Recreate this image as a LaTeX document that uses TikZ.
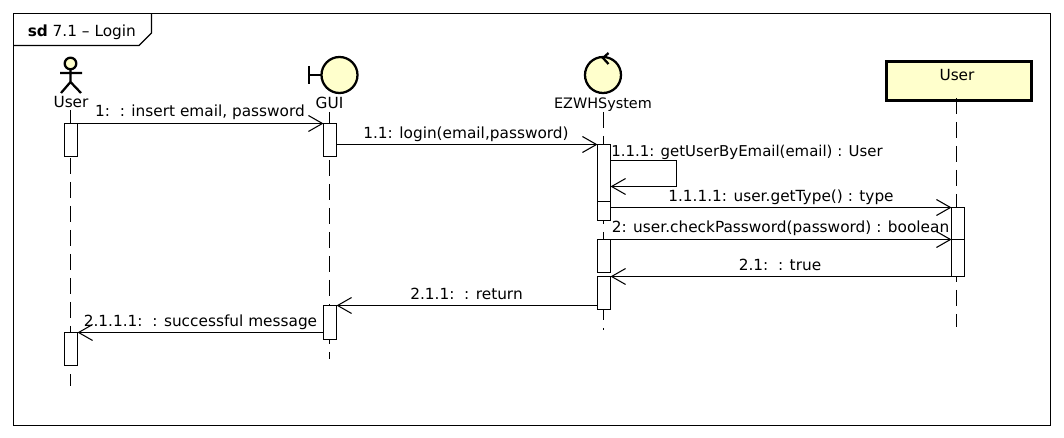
\documentclass[tikz,border=0pt]{standalone}
\usepackage{fontspec}
\setmainfont{DejaVu Sans}
\usetikzlibrary{arrows.meta,calc}
\definecolor{umlfill}{HTML}{FFFFCC}
\tikzset{
  x=0.75pt,y=-0.75pt,
  txt/.style={inner sep=0pt,font=\fontsize{11.5pt}{13pt}\selectfont,text height=8.6pt,text depth=0.1pt},
  msg/.style={draw=black,line width=0.85pt,-{Straight Barb[length=10.5pt,width=12pt,line width=0.8pt]}},
  life/.style={draw=black,line width=0.9pt,dash pattern=on 12pt off 6pt},
  act/.style={draw=black,fill=white,line width=0.8pt,minimum width=9.75pt,inner sep=0pt,outer sep=0pt,anchor=north},
  sym/.style={draw=black,line width=1.7pt},
  symfill/.style={draw=black,fill=umlfill,line width=1.7pt},
}
\begin{document}
\begin{tikzpicture}
\useasboundingbox (0,0) rectangle (1064,438);
\fill[white] (0,0) rectangle (1064,438);
% frame
\draw[line width=0.8pt] (13.5,13.5) rectangle (1050.5,425.5);
\draw[line width=0.8pt] (13.5,45.5) -- (139,45.5) -- (151.5,33) -- (151.5,13.5);
\node[txt,anchor=west] (frametitle) at (27.5,30.5) {\textbf{sd} 7.1 – Login};
% actor
\draw[symfill] (70.5,63.5) circle (5.8);
\draw[sym] (70.5,69.5) -- (70.5,82) (60,73) -- (82,73) (61,93) -- (70.5,82) -- (81,93);
\node[txt] (userA) at (71,102) {User};
% boundary
\draw[symfill] (339.5,75) circle (18);
\draw[sym] (321.5,75) -- (309,75) (309,66) -- (309,84);
\node[txt] (gui) at (329.5,103) {GUI};
% control
\draw[symfill] (603,75) circle (18);
\draw[sym] (608.5,53) -- (603,58) -- (608.5,64);
\node[txt,font=\fontsize{10.8pt}{13pt}\selectfont] (sys) at (603,103) {EZWHSystem};
% entity
\node[draw=black,fill=umlfill,line width=2.3pt,minimum width=109pt,minimum height=29pt,inner sep=0pt,anchor=north west] (userB) at (884.5,60) {};
\node[txt] (userBt) at (957,74.5) {User};
% lifeline ends
\coordinate (endU) at (70.5,386);
\coordinate (endG) at (329.5,359);
\coordinate (endS) at (603.5,330);
\coordinate (endB) at (956.5,327);
\draw[life] (70.5,110) -- (endU);
\draw[life] (329.5,112) -- (endG);
\draw[life] (603.5,112) -- (endS);
\draw[life] (956.5,98) -- (endB);
% activations
\node[act,minimum height=24.75pt] (aU1) at (71,123.5) {};
\node[act,minimum height=24.75pt] (aU2) at (71,332.5) {};
\node[act,minimum height=24.75pt] (aG1) at (330,123.5) {};
\node[act,minimum height=25.5pt] (aG2) at (330,305.5) {};
\node[act,minimum height=42.75pt] (aS1) at (604,144.5) {};
\node[act,minimum height=14.25pt] (aS2) at (604,201.5) {};
\node[act,minimum height=24.75pt] (aS3) at (604,239.5) {};
\node[act,minimum height=24.75pt] (aS4) at (604,276.5) {};
\node[act,minimum height=24pt] (aB1) at (958,207.5) {};
\node[act,minimum height=27.75pt] (aB2) at (958,239.5) {};
% messages
\draw[msg] (aU1.north east) -- (aG1.north west);
\draw[msg] (aG1.east |- aS1.north) -- (aS1.north west);
\coordinate (selfA) at (676.5,160.5);
\coordinate (selfB) at (676.5,186.5);
\draw[msg] (aS1.east |- selfA) -- (selfA) -- (selfB) -- (aS1.east |- selfB);
\draw[msg] (aS1.east |- aB1.north) -- (aB1.north west);
\draw[msg] (aS3.north east) -- (aB2.north west);
\draw[msg] (aB2.south west) -- (aS4.north east);
\draw[msg] (aS4.west |- aG2.north) -- (aG2.north east);
\draw[msg] (aG2.west |- aU2.north) -- (aU2.north east);
% labels
\node[txt] (m1) at (200,111) {1:\ \ : insert email, password};
\node[txt] (m2) at (466,133) {1.1: login(email,password)};
\node[txt,font=\fontsize{11.2pt}{13pt}\selectfont] (m3) at (747,151) {1.1.1: getUserByEmail(email) : User};
\node[txt] (m4) at (781,196) {1.1.1.1: user.getType() : type};
\node[txt] (m5) at (780.5,227) {2: user.checkPassword(password) : boolean};
\node[txt] (m6) at (780,265) {2.1:\ \ : true};
\node[txt] (m7) at (466.5,294) {2.1.1:\ \ : return};
\node[txt] (m8) at (200.5,321) {2.1.1.1:\ \ : successful message};
\end{tikzpicture}
\end{document}
